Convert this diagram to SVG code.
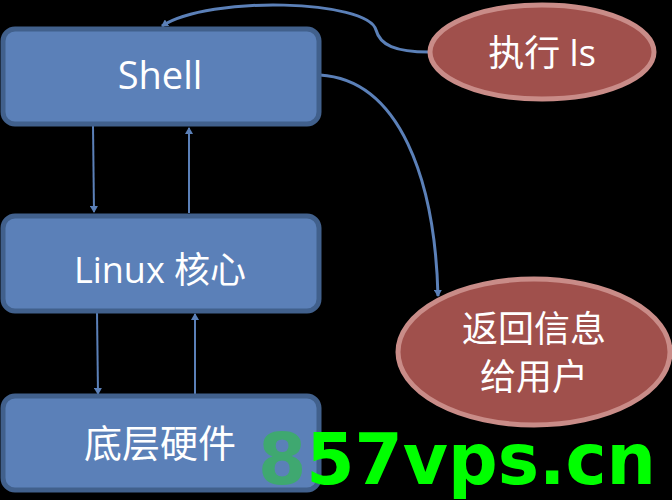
<svg xmlns="http://www.w3.org/2000/svg" width="672" height="500" viewBox="0 0 672 500">
<style>
.box{fill:#5b80b8;stroke:#41608c;stroke-width:5}
.ell{fill:#a0504c;stroke:#c98c88;stroke-width:5}
.t{fill:#fff;font-family:"Open Sans","Noto Sans CJK SC",sans-serif;text-anchor:middle}
.c{fill:none;stroke:#5b80b8;stroke-width:3}
.v{stroke:#5b80b8;stroke-width:2}
</style>
<defs>
<marker id="a" markerWidth="8" markerHeight="8" refX="6" refY="4" orient="auto" markerUnits="userSpaceOnUse"><path d="M0,0L7,4L0,8z" fill="#5b80b8"/></marker>
</defs>
<rect width="672" height="500" fill="#000"/>
<g id="connectors">
<path class="c" d="M429,52 C395,52 380,45 376,30 C368,0 210,-5 162,26" marker-end="url(#a)"/>
<path class="c" d="M320,75 C400,80 435,180 438,296" marker-end="url(#a)"/>
<line class="v" x1="93" y1="126" x2="94" y2="212" marker-end="url(#a)"/>
<line class="v" x1="189" y1="213" x2="189" y2="128" marker-end="url(#a)"/>
<line class="v" x1="97" y1="312" x2="98" y2="394" marker-end="url(#a)"/>
<line class="v" x1="195" y1="394" x2="195" y2="314" marker-end="url(#a)"/>
</g>
<g id="shell"><rect class="box" x="3" y="29" width="316" height="95" rx="12"/><text class="t" x="160" y="89" font-size="38">Shell</text></g>
<g id="kernel"><rect class="box" x="3" y="216" width="316" height="95" rx="12"/><text class="t" x="160" y="283" font-size="36">Linux 核心</text></g>
<g id="hw"><rect class="box" x="3" y="396" width="316" height="94" rx="12"/><text class="t" x="160" y="457" font-size="38">底层硬件</text></g>
<g id="exec"><ellipse class="ell" cx="542" cy="52" rx="112" ry="47"/><text class="t" x="542" y="66" font-size="36">执行 ls</text></g>
<g id="ret"><ellipse class="ell" cx="534" cy="352" rx="136" ry="73"/><text class="t" x="534" y="342" font-size="36">返回信息</text><text class="t" x="534" y="390" font-size="36">给用户</text></g>
<text x="258" y="484" font-family="DejaVu Sans" font-weight="bold" font-size="72" fill="#00ff00" textLength="398" lengthAdjust="spacingAndGlyphs"><tspan fill="#3fa870">8</tspan>57vps.cn</text>
</svg>
